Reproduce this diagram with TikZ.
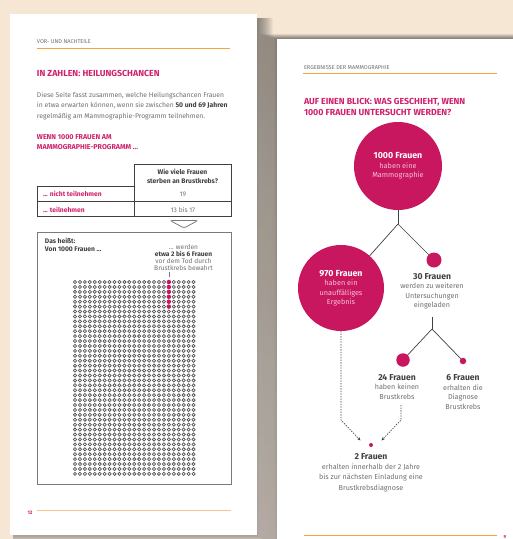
\documentclass[tikz,border=0pt]{standalone}
\usepackage{fontspec}
\setmainfont{Fira Sans}
\usetikzlibrary{arrows.meta}

\definecolor{bg}{HTML}{F6E7D4}
\definecolor{shade}{HTML}{6E5A42}
\definecolor{mag}{HTML}{C8175E}
\definecolor{magt}{HTML}{D0226C}
\definecolor{orl}{HTML}{F2A548}
\definecolor{orlight}{HTML}{F7C48B}
\definecolor{txt}{HTML}{707070}
\definecolor{dark}{HTML}{404040}
\definecolor{pinktxt}{HTML}{F5C0D5}
\definecolor{ring}{HTML}{555555}
\definecolor{frame}{HTML}{7A7A7A}

\tikzset{
  every node/.style={inner sep=0pt, outer sep=0pt},
  kicker/.style={anchor=base west, text=txt, font=\fontsize{5.6}{6}\selectfont},
  headline/.style={anchor=north west, align=left, text=magt, font=\bfseries\fontsize{8.8}{11}\selectfont},
  subhead/.style={anchor=north west, align=left, text=magt, font=\bfseries\fontsize{7.1}{10.5}\selectfont},
  rule/.style={orl, line width=0.9pt},
  smalltxt/.style={text=txt, font=\fontsize{6.6}{6.9}\selectfont},
  smallbold/.style={text=dark, font=\bfseries\fontsize{6.7}{8}\selectfont},
  rowlabel/.style={anchor=base west, text=magt, font=\bfseries\fontsize{6.7}{8}\selectfont},
  grid/.style={dark, line width=0.75pt},
  dotring/.style={ring, line width=0.72pt},
  bigdot/.style={circle, fill=mag, draw=none, align=center, text=pinktxt, font=\fontsize{7.3}{9.5}\selectfont},
  caption/.style={align=center, text=txt, font=\fontsize{7.2}{9.6}\selectfont},
  branch/.style={dark, line width=0.7pt},
  flow/.style={dark, line width=0.7pt, dash pattern=on 1.3pt off 1.3pt, -{Stealth[length=3.6pt,width=3pt]}},
}

\begin{document}
\begin{tikzpicture}[x=1pt, y=-1pt]
\useasboundingbox (0,0) rectangle (513,539);
\fill[bg] (0,0) rectangle (513,539);

% soft shadows of the two sheets
\foreach \k in {1,...,17}{
  \fill[shade, fill opacity=0.022] (13,18) rectangle (256+\k, 535.5+\k*0.4);
}
\foreach \k in {1,...,18}{
  \fill[shade, fill opacity=0.022] (277.5-\k, 39.5-\k*0.3) rectangle (520,545);
}

% ---------------- left sheet ----------------
\fill[white] (10,14) rectangle (257,535);

\node[kicker] (kickL) at (37,43) {VOR- UND NACHTEILE};
\draw[rule] (37,48) -- (230,48);

\node[headline] (headL) at (37,70) {IN ZAHLEN: HEILUNGSCHANCEN};

\node[anchor=north west, align=left, text=txt, font=\fontsize{6.8}{10.4}\selectfont] (intro) at (37,92.2)
  {Diese Seite fasst zusammen, welche Heilungschancen Frauen\\
   in etwa erwarten können, wenn sie zwischen {\color{dark}\bfseries 50 und 69 Jahren}\\
   regelmäßig am Mammographie-Programm teilnehmen.};

\node[subhead] (subL) at (37,134.5) {WENN 1000 FRAUEN AM\\MAMMOGRAPHIE-PROGRAMM ...};

% table
\draw[grid] (134,186) -- (134,164) -- (231,164) -- (231,216) -- (37,216) -- (37,186) -- cycle;
\draw[grid] (37,201) -- (231,201);
\draw[grid] (134,186) -- (134,216);
\node[smallbold, align=center, font=\bfseries\fontsize{6.7}{9.5}\selectfont] (thead) at (182.5,176.3) {Wie viele Frauen\\sterben an Brustkrebs?};
\node[rowlabel] (rowA) at (43,196.8) {... nicht teilnehmen};
\node[anchor=base, smalltxt] (valA) at (183,196.8) {19};
\node[rowlabel] (rowB) at (43,212.2) {... teilnehmen};
\node[anchor=base, smalltxt] (valB) at (183,212.2) {13 bis 17};

% chevron between table and box
\draw[frame, line width=0.8pt, rounded corners=2.2pt] (170,220.5) -- (198,220.5) -- (184,228) -- cycle;

% result box
\draw[frame, line width=0.9pt] (37,232) rectangle (231,484);
\node[smallbold, anchor=north west, align=left] (meaning) at (45,238) {Das heißt:\\Von 1000 Frauen ...};
\node[smalltxt, align=center, anchor=north] (saved) at (183.5,244.6)
  {... werden\\{\color{dark}\bfseries etwa 2 bis 6 Frauen}\\vor dem Tod durch\\Brustkrebs bewahrt};

% 25 x 40 women
\foreach \i in {0,...,24}{
  \foreach \j in {0,...,39}{
    \draw[dotring] (75+\i*4.94, 282+\j*4.92) circle (1.6pt);
  }
}
\foreach \j in {0,...,5}{
  \fill[mag] (75+19*4.94, 282+\j*4.92) circle (2.2pt);
}
\coordinate (tickTop) at (168.9,271.8);
\coordinate (tickEnd) at (168.9,277.3);
\draw[frame, line width=0.8pt] (tickTop) -- (tickEnd);

% footer left
\node[anchor=base west, text=magt, font=\bfseries\fontsize{5}{6}\selectfont] (pageL) at (27.5,514) {12};
\draw[orlight, line width=1pt] (37,510) -- (231,510);

% ---------------- right sheet ----------------
\fill[white] (277,39) rectangle (513,539);

\node[kicker] (kickR) at (304,69) {ERGEBNISSE DER MAMMOGRAPHIE};
\draw[rule] (303,73) -- (497,73);

\node[headline] (headR) at (304,98) {AUF EINEN BLICK: WAS GESCHIEHT, WENN\\1000 FRAUEN UNTERSUCHT WERDEN?};

% outcome tree
\node[bigdot, minimum size=88pt] (all) at (398,166)
  {{\color{white}\bfseries\fontsize{8.8}{9.5}\selectfont 1000 Frauen}\\ haben eine\\ Mammographie};
\node[bigdot, minimum size=86pt] (normal) at (341,288)
  {{\color{white}\bfseries\fontsize{8.8}{9.3}\selectfont 970 Frauen}\\ haben ein\\ unauffälliges\\ Ergebnis};
\node[bigdot, minimum size=15pt] (recall) at (434,260) {};
\node[bigdot, minimum size=13.5pt] (benign) at (403,360) {};
\node[bigdot, minimum size=6.5pt] (cancer) at (463,361) {};
\node[bigdot, minimum size=4pt] (interval) at (371,445) {};

\node[caption] (recallTxt) at (432,291.2)
  {{\color{dark}\bfseries\fontsize{8.6}{9.6}\selectfont 30 Frauen}\\werden zu weiteren\\Untersuchungen\\eingeladen};
\node[caption] (benignTxt) at (397,387)
  {{\color{dark}\bfseries\fontsize{8.6}{9.6}\selectfont 24 Frauen}\\haben keinen\\Brustkrebs};
\node[caption] (cancerTxt) at (463,392)
  {{\color{dark}\bfseries\fontsize{8.6}{9.6}\selectfont 6 Frauen}\\erhalten die\\Diagnose\\Brustkrebs};
\node[caption, font=\fontsize{7.2}{10.4}\selectfont] (intervalTxt) at (371,472.5)
  {{\color{dark}\bfseries\fontsize{8.6}{10.4}\selectfont 2 Frauen}\\erhalten innerhalb der 2 Jahre\\bis zur nächsten Einladung eine\\Brustkrebsdiagnose};

\coordinate (fork1) at (398,224);
\coordinate (fork2) at (432,329);
\coordinate (stem2) at (432,317);
\draw[branch] (all) -- (fork1);
\draw[branch] (fork1) -- (normal);
\draw[branch] (fork1) -- (recall);
\draw[branch] (stem2) -- (fork2);
\draw[branch] (fork2) -- (benign);
\draw[branch] (fork2) -- (cancer);

% dashed paths to the interval cancers
\coordinate (bendA) at (341,420);
\coordinate (tipA) at (360.5,440.5);
\coordinate (startB) at (401,405);
\coordinate (bendB) at (401,420);
\coordinate (tipB) at (381.5,440.5);
\draw[flow] (normal.south) -- (bendA) -- (tipA);
\draw[flow] (startB) -- (bendB) -- (tipB);

% footer right
\draw[orl, line width=0.9pt] (304,535) -- (497,535);
\node[anchor=base, text=magt, font=\bfseries\fontsize{4.5}{5}\selectfont] (pageR) at (505,538.6) {9};
\end{tikzpicture}
\end{document}
